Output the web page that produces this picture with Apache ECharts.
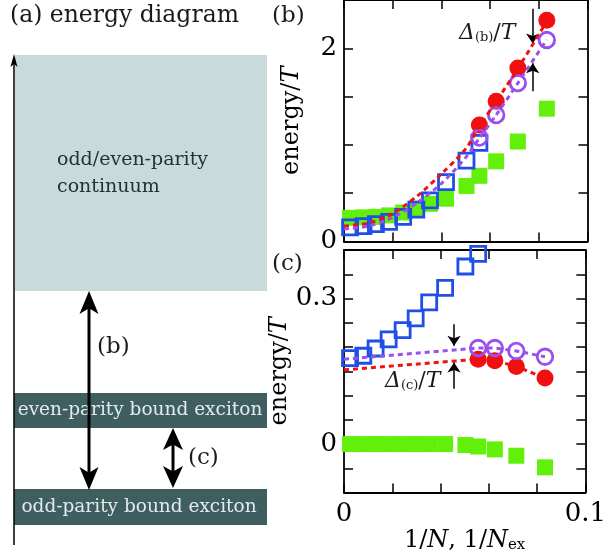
<!DOCTYPE html>
<html><head><meta charset="utf-8">
<script src="https://cdn.jsdelivr.net/npm/echarts@6/dist/echarts.min.js"></script>
<style>html,body{margin:0;padding:0;background:#fff}#c{width:609px;height:554px}</style>
</head><body><div id="c"></div>
<script>
// ---- data ----
const xExciton = [0.0025, 0.008, 0.0131, 0.0185, 0.0243, 0.0297, 0.0353, 0.0419, 0.0503, 0.0556]; // 1/N_ex
const xN = [0.0556, 0.0625, 0.0714, 0.0833];                    // 1/N  (N = 18,16,14,12)
const xGreen = [0.0025, 0.008, 0.0131, 0.0185, 0.0243, 0.0297, 0.0353, 0.0419, 0.0503, 0.0556, 0.0625, 0.0714, 0.0833];

// panel (b)
const bBlue   = [0.146, 0.159, 0.18, 0.203, 0.255, 0.331, 0.426, 0.614, 0.837, 1.02];
const bGreen  = [0.245, 0.25, 0.255, 0.27, 0.30, 0.34, 0.39, 0.443, 0.575, 0.68, 0.83, 1.035, 1.375];
const bRed    = [1.206, 1.453, 1.795, 2.29];
const bPurple = [1.076, 1.309, 1.64, 2.086];
const xFitB      = [0, 0.01, 0.02, 0.03, 0.04, 0.05, 0.0556, 0.0625, 0.0714, 0.0833];
const bRedFit    = [0.16, 0.19, 0.29, 0.47, 0.70, 0.96, 1.19, 1.45, 1.79, 2.28];
const bPurpleFit = [0.13, 0.16, 0.25, 0.40, 0.60, 0.87, 1.07, 1.31, 1.64, 2.09];

// panel (c)
const cBlue   = [0.177, 0.182, 0.197, 0.216, 0.235, 0.259, 0.292, 0.322, 0.366, 0.392];
const cGreen  = [0, 0, 0, 0, 0, 0, 0, 0, -0.002, -0.005, -0.011, -0.024, -0.048];
const cRed    = [0.175, 0.172, 0.16, 0.136];
const cPurple = [0.198, 0.198, 0.192, 0.18];
const xFitC      = [0, 0.0556, 0.0625, 0.0714, 0.0833];
const cRedFit    = [0.153, 0.175, 0.172, 0.16, 0.136];
const cPurpleFit = [0.175, 0.198, 0.198, 0.192, 0.18];

// tick labels shown
const bYLabels = [0, 2];
const cYLabels = [0, 0.3];
const cXLabels = [0, 0.1];

// ---- styling ----
const SERIF = 'DejaVu Serif';
const RED = '#f01010', PURPLE = '#9a50ee', BLUE = '#1f4fe6', GREEN = '#62f00a';
const pairs = (xs, ys) => ys.map((y, i) => [xs[i], y]);
const pick = list => v => list.some(t => Math.abs(t - v) < 1e-6) ? String(+v.toFixed(3)) : '';

function axisBase(extra) {
  return Object.assign({
    type: 'value',
    axisLine: { show: true, onZero: false, lineStyle: { color: '#000', width: 1.8 } },
    axisTick: { show: true, inside: true, length: 9, lineStyle: { color: '#000', width: 1.5 } },
    axisLabel: { show: false },
    splitLine: { show: false }
  }, extra);
}
const labelStyle = { show: true, fontFamily: SERIF, fontSize: 26, color: '#000' };
const nameStyle = { fontFamily: SERIF, fontSize: 24, color: '#000',
  rich: { i: { fontFamily: SERIF, fontStyle: 'italic', fontSize: 24, color: '#000' },
          s: { fontFamily: SERIF, fontSize: 15, color: '#000', padding: [10, 0, 0, 0] } } };

const xAxes = [
  axisBase({ gridIndex: 0, min: 0, max: 0.1, interval: 0.02, position: 'bottom' }),
  axisBase({ gridIndex: 0, min: 0, max: 0.1, interval: 0.02, position: 'top' }),
  axisBase({ gridIndex: 1, min: 0, max: 0.1, interval: 0.02, position: 'bottom',
    axisLabel: Object.assign({}, labelStyle, { margin: 9, formatter: pick(cXLabels) }),
    name: '1/{i|N}, 1/{i|N}{s|ex}', nameLocation: 'middle', nameGap: 19, nameTextStyle: nameStyle }),
  axisBase({ gridIndex: 1, min: 0, max: 0.1, interval: 0.02, position: 'top' })
];
const yAxes = [
  axisBase({ gridIndex: 0, min: 0, max: 2.5, interval: 0.5, position: 'left',
    axisLabel: Object.assign({}, labelStyle, { margin: 7, formatter: pick(bYLabels) }),
    name: 'energy/{i|T}', nameLocation: 'middle', nameRotate: 90, nameGap: 40, nameTextStyle: nameStyle }),
  axisBase({ gridIndex: 0, min: 0, max: 2.5, interval: 0.5, position: 'right' }),
  axisBase({ gridIndex: 1, min: -0.1, max: 0.4, interval: 0.05, position: 'left',
    axisLabel: Object.assign({}, labelStyle, { margin: 7, formatter: pick(cYLabels) }),
    name: 'energy/{i|T}', nameLocation: 'middle', nameRotate: 90, nameGap: 40, nameTextStyle: nameStyle }),
  axisBase({ gridIndex: 1, min: -0.1, max: 0.4, interval: 0.05, position: 'right' })
];

function greenS(xi, yi, d) { return { type: 'scatter', xAxisIndex: xi, yAxisIndex: yi, data: d, symbol: 'rect', symbolSize: 16, itemStyle: { color: GREEN, opacity: 1 }, z: 2 }; }
function blueS(xi, yi, d) { return { type: 'scatter', xAxisIndex: xi, yAxisIndex: yi, data: d, symbol: 'rect', symbolSize: 15, itemStyle: { color: 'rgba(0,0,0,0)', borderColor: BLUE, borderWidth: 2.8, opacity: 1 }, z: 3 }; }
function redS(xi, yi, d, ml) { return { type: 'scatter', xAxisIndex: xi, yAxisIndex: yi, data: d, symbol: 'circle', symbolSize: 17, itemStyle: { color: RED, opacity: 1 }, z: 4, markLine: ml }; }
function purpleS(xi, yi, d) { return { type: 'scatter', xAxisIndex: xi, yAxisIndex: yi, data: d, symbol: 'circle', symbolSize: 15.5, itemStyle: { color: 'rgba(0,0,0,0)', borderColor: PURPLE, borderWidth: 2.8, opacity: 1 }, z: 5 }; }
function fitS(xi, yi, d, col, smooth) { return { type: 'line', xAxisIndex: xi, yAxisIndex: yi, data: d, showSymbol: false, smooth: smooth, lineStyle: { color: col, width: 3, type: [5, 4] }, z: 6 }; }
function arrows(x, segs) {
  return { silent: true, symbol: ['none', 'arrow'], symbolSize: 10, label: { show: false },
    lineStyle: { color: '#000', width: 1.5, type: 'solid' },
    data: segs.map(s => [{ coord: [x, s[0]] }, { coord: [x, s[1]] }]) };
}

const series = [
  greenS(0, 0, pairs(xGreen, bGreen)),
  blueS(0, 0, pairs(xExciton, bBlue)),
  redS(0, 0, pairs(xN, bRed), arrows(0.0775, [[2.41, 2.05], [1.555, 1.846]])),
  purpleS(0, 0, pairs(xN, bPurple)),
  fitS(0, 0, pairs(xFitB, bRedFit), RED, 0.3),
  fitS(0, 0, pairs(xFitB, bPurpleFit), PURPLE, 0.3),

  greenS(2, 2, pairs(xGreen, cGreen)),
  blueS(2, 2, pairs(xExciton, cBlue)),
  redS(2, 2, pairs(xN, cRed), arrows(0.0456, [[0.247, 0.2025], [0.114, 0.168]])),
  purpleS(2, 2, pairs(xN, cPurple)),
  fitS(2, 2, pairs(xFitC, cRedFit), RED, false),
  fitS(2, 2, pairs(xFitC, cPurpleFit), PURPLE, false)
];

// ---- schematic panel (a) and annotations ----
const LIGHT = '#c9dadd', DARK = '#3e5e60';
function txt(x, y, text, size, opts) {
  return Object.assign({ type: 'text', x: x, y: y, silent: true,
    style: Object.assign({ text: text, fontFamily: SERIF, fontSize: size, fill: '#1a1a1a', align: 'left', verticalAlign: 'middle' }, opts || {}) });
}
function dblArrow(x, y1, y2, hw, hl) {
  return [
    { type: 'line', silent: true, shape: { x1: x, y1: y1 + hl * 0.7, x2: x, y2: y2 - hl * 0.7 }, style: { stroke: '#000', lineWidth: 3 } },
    { type: 'polygon', silent: true, shape: { points: [[x, y1], [x - hw, y1 + hl], [x, y1 + hl * 0.75], [x + hw, y1 + hl]] }, style: { fill: '#000' } },
    { type: 'polygon', silent: true, shape: { points: [[x, y2], [x - hw, y2 - hl], [x, y2 - hl * 0.75], [x + hw, y2 - hl]] }, style: { fill: '#000' } }
  ];
}
const richDelta = { i: { fontFamily: SERIF, fontStyle: 'italic', fontSize: 22, fill: '#1a1a1a' },
                    s: { fontFamily: SERIF, fontSize: 13, fill: '#1a1a1a', padding: [9, 0, 0, 0] } };
const graphic = [
  { type: 'rect', silent: true, shape: { x: 15, y: 55, width: 252, height: 236 }, style: { fill: LIGHT } },
  { type: 'rect', silent: true, shape: { x: 14, y: 393, width: 253, height: 35 }, style: { fill: DARK } },
  { type: 'rect', silent: true, shape: { x: 14, y: 489, width: 253, height: 36 }, style: { fill: DARK } },
  { type: 'line', silent: true, shape: { x1: 14, y1: 545, x2: 14, y2: 62 }, style: { stroke: '#000', lineWidth: 1.5 } },
  { type: 'polygon', silent: true, shape: { points: [[14, 54], [10.5, 67], [14, 64], [17.5, 67]] }, style: { fill: '#000' } },
  txt(10, 16, '(a) energy diagram', 23.5),
  txt(57, 160, 'odd/even-parity', 19, { fill: '#243232' }),
  txt(57, 187, 'continuum', 19, { fill: '#243232' }),
  txt(140, 410, 'even-parity bound exciton', 18.5, { fill: '#e4eaea', align: 'center' }),
  txt(139, 507, 'odd-parity bound exciton', 18.5, { fill: '#e4eaea', align: 'center' }),
  ...dblArrow(89, 291, 490, 9.5, 23),
  ...dblArrow(173, 428, 488, 10, 22),
  txt(97, 347, '(b)', 23),
  txt(188, 458, '(c)', 23),
  txt(272, 16, '(b)', 23),
  txt(272, 264, '(c)', 23),
  txt(459, 33, '{i|Δ}{s|(b)}/{i|T}', 22, { rich: richDelta }),
  txt(385, 381, '{i|Δ}{s|(c)}/{i|T}', 22, { rich: richDelta })
];

const chart = echarts.init(document.getElementById('c'), null, { renderer: 'canvas' });
chart.setOption({
  animation: false,
  backgroundColor: '#fff',
  grid: [
    { left: 344, top: -2, width: 243.5, height: 243.5 },
    { left: 344, top: 250, width: 243.5, height: 244.5 }
  ],
  xAxis: xAxes,
  yAxis: yAxes,
  series: series,
  graphic: graphic
});
</script>
</body></html>
